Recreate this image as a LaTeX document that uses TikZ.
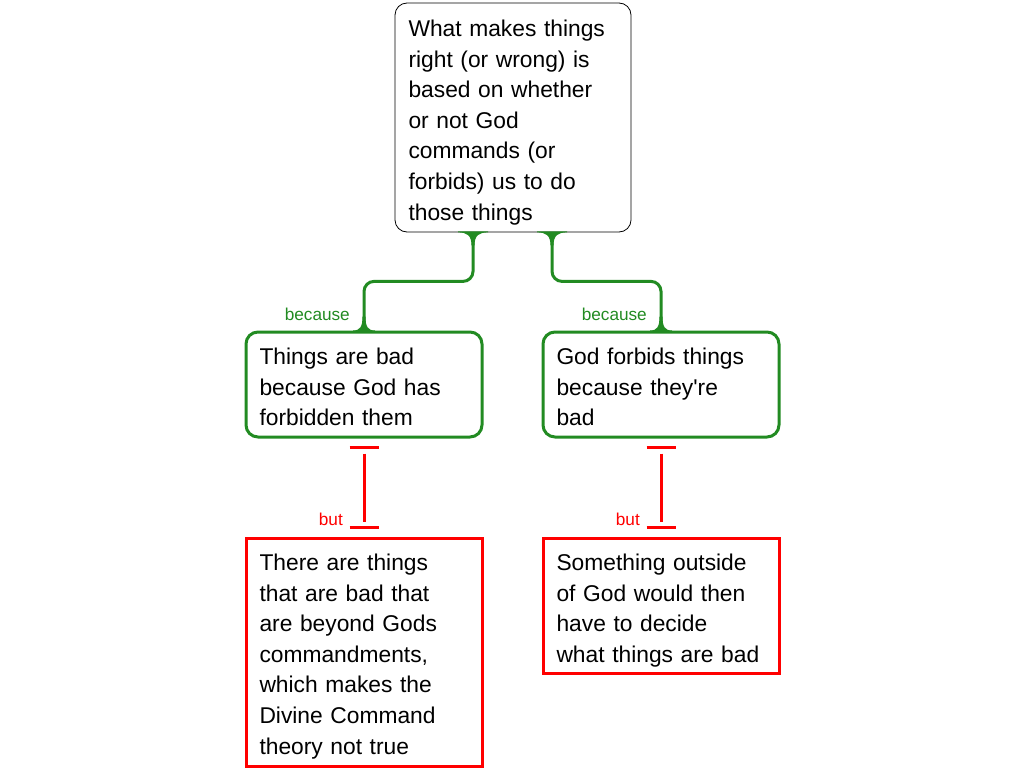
\documentclass[tikz,border=0pt]{standalone}
\usepackage{fontspec}
\setmainfont{Liberation Sans}[Ligatures=TeXOff]
\usetikzlibrary{calc}
\definecolor{gcol}{RGB}{34,139,34}
\definecolor{rcol}{RGB}{255,0,0}
\begin{document}
\begin{tikzpicture}[x=1pt,y=-1pt,
 box/.style={minimum width=236pt, text width=209pt, inner xsep=13.5pt, inner ysep=0pt, align=left, font=\fontsize{22.8}{30.6}\selectfont, anchor=center},
 topbox/.style={box, draw=black, line width=0.8pt, rounded corners=12pt, minimum height=229pt, text height=33.5pt, text depth=195.5pt},
 gbox/.style={box, draw=gcol, line width=3pt, rounded corners=12pt, minimum height=105pt, text height=32.5pt, text depth=72.5pt},
 rbox/.style={box, draw=rcol, line width=3pt},
 gconn/.style={draw=gcol, line width=3pt, rounded corners=10pt},
 rconn/.style={draw=rcol, line width=3pt},
 glabel/.style={text=gcol, font=\fontsize{17.2}{19}\selectfont, inner sep=0pt, anchor=base east},
 rlabel/.style={text=rcol, font=\fontsize{17.2}{19}\selectfont, inner sep=0pt, anchor=base east},
 pics/gflaredown/.style={code={\fill[gcol] (-15,-1) -- (-15,0) .. controls (-6,0) and (-1.5,3) .. (-1.5,13) -- (1.5,13) .. controls (1.5,3) and (6,0) .. (15,0) -- (15,-1) -- cycle;}},
 pics/gflareup/.style={code={\fill[gcol] (-11,1) -- (-11,0) .. controls (-4,0) and (-1.5,-3.5) .. (-1.5,-14) -- (1.5,-14) .. controls (1.5,-3.5) and (4,0) .. (11,0) -- (11,1) -- cycle;}},
]
\useasboundingbox (0,0) rectangle (1024,768);
\node[topbox] (top) at (513,117.5) {What makes things\\right (or wrong) is\\based on whether\\or not God\\commands (or\\forbids) us to do\\those things};
\node[gbox] (gl) at (364,384.5) {Things are bad\\because God has\\forbidden them};
\node[gbox] (gr) at (661,384.5) {God forbids things\\because they're\\bad};
\node[rbox, minimum height=228pt, text height=32.5pt, text depth=195.5pt] (rl) at (364,652) {There are things\\that are bad that\\are beyond Gods\\commandments,\\which makes the\\Divine Command\\theory not true};
\node[rbox, minimum height=135pt, text height=32.5pt, text depth=102.5pt] (rr) at (661,605.5) {Something outside\\of God would then\\have to decide\\what things are bad};
% green connectors
\draw[gconn] ($(top.south)+(-40,0)$) -- ($(top.south)+(-40,49)$) -| (gl.north);
\draw[gconn] ($(top.south)+(39,0)$) -- ($(top.south)+(39,49)$) -| (gr.north);
\pic at ($(top.south)+(-40,0)$) {gflaredown};
\pic at ($(top.south)+(39,0)$) {gflaredown};
\pic at (gl.north) {gflareup};
\pic at (gr.north) {gflareup};
\node[glabel] (lb1) at ($(gl.north)+(-14,-10.3)$) {because};
\node[glabel] (lb2) at ($(gr.north)+(-14,-10.3)$) {because};
% red connectors
\draw[rconn] ($(gl.south)+(-14.5,9)$) -- ($(gl.south)+(14.5,9)$);
\draw[rconn] ($(gl.south)+(0,15)$) -- ($(rl.north)+(0,-15)$);
\draw[rconn] ($(rl.north)+(-14.5,-9)$) -- ($(rl.north)+(14.5,-9)$);
\draw[rconn] ($(gr.south)+(-14.5,9)$) -- ($(gr.south)+(14.5,9)$);
\draw[rconn] ($(gr.south)+(0,15)$) -- ($(rr.north)+(0,-15)$);
\draw[rconn] ($(rr.north)+(-14.5,-9)$) -- ($(rr.north)+(14.5,-9)$);
\node[rlabel] (lb3) at ($(rl.north)+(-21,-10.7)$) {but};
\node[rlabel] (lb4) at ($(rr.north)+(-21,-10.7)$) {but};
\end{tikzpicture}
\end{document}
